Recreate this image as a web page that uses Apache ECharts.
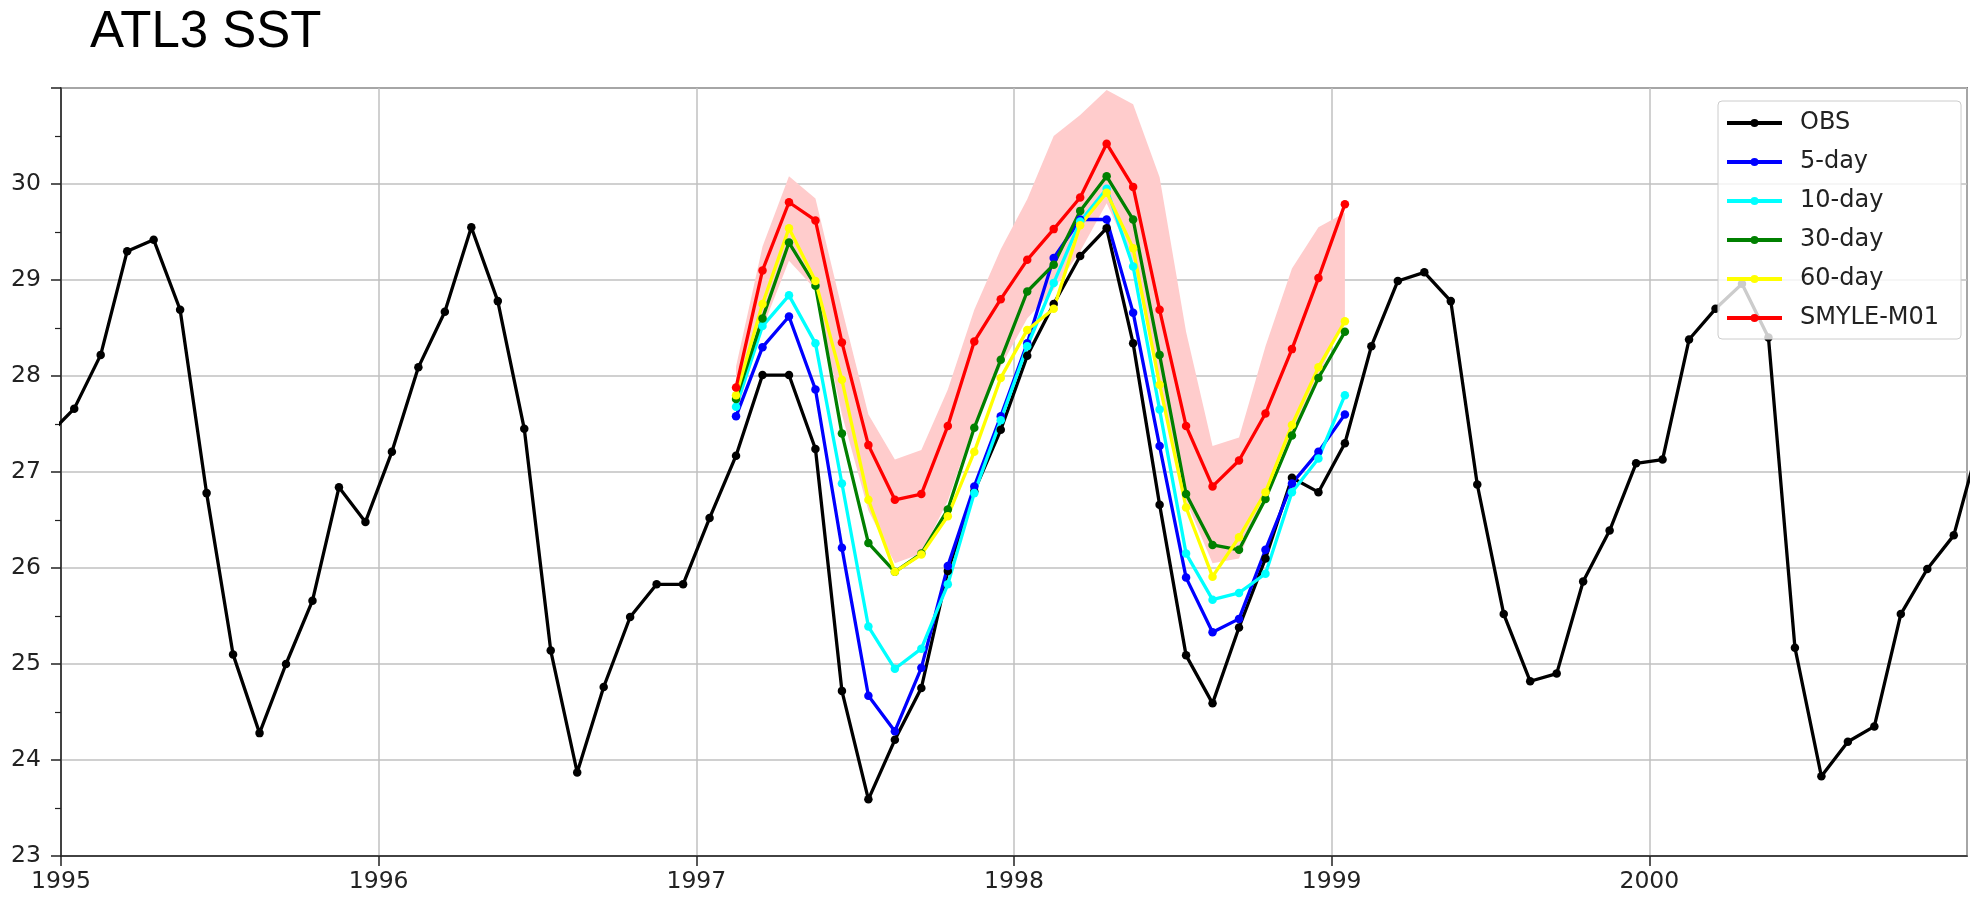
<!DOCTYPE html>
<html><head><meta charset="utf-8">
<script src="https://cdn.jsdelivr.net/npm/echarts@6/dist/echarts.min.js"></script>
<style>html,body{margin:0;padding:0;background:#fff}#c{width:1975px;height:898px}</style>
</head><body><div id="c"></div>
<script>
const chartTitle = 'ATL3 SST';
const xTicks = [1995, 1996, 1997, 1998, 1999, 2000];
const yTicks = [23, 24, 25, 26, 27, 28, 29, 30];
const seriesNames = ['OBS', '5-day', '10-day', '30-day', '60-day', 'SMYLE-M01'];

// OBS monthly values, Dec 1994 .. Jan 2001
const obsStart = '1994-12';
const obs = [27.38,
  27.66, 28.22, 29.30, 29.42, 28.69, 26.78, 25.10, 24.28, 25.00, 25.66, 26.84, 26.48,
  27.21, 28.09, 28.67, 29.55, 28.78, 27.45, 25.14, 23.87, 24.76, 25.49, 25.83, 25.83,
  26.52, 27.17, 28.01, 28.01, 27.24, 24.72, 23.59, 24.21, 24.75, 25.97, 26.80, 27.44,
  28.21, 28.75, 29.25, 29.54, 28.34, 26.66, 25.09, 24.59, 25.38, 26.10, 26.94, 26.79,
  27.30, 28.31, 28.99, 29.08, 28.78, 26.87, 25.52, 24.82, 24.90, 25.86, 26.39, 27.09,
  27.13, 28.38, 28.70, 28.96, 28.40, 25.17, 23.83, 24.19, 24.35, 25.52, 25.99, 26.34,
  27.35];

// forecasts, Feb 1997 .. Jan 1999
const fcstStart = '1997-02';
const day5 = [27.58, 28.30, 28.62, 27.86, 26.21, 24.67, 24.30, 24.96, 26.02, 26.85, 27.58,
  28.34, 29.23, 29.63, 29.63, 28.66, 27.27, 25.90, 25.33, 25.47, 26.19, 26.88, 27.21, 27.60];
const day10 = [27.68, 28.52, 28.84, 28.34, 26.88, 25.39, 24.95, 25.16, 25.83, 26.78, 27.54,
  28.31, 28.97, 29.61, 29.95, 29.14, 27.65, 26.15, 25.67, 25.74, 25.94, 26.79, 27.14, 27.80];
const day30 = [27.76, 28.60, 29.39, 28.94, 27.40, 26.26, 25.96, 26.15, 26.61, 27.46, 28.17,
  28.88, 29.16, 29.72, 30.08, 29.63, 28.22, 26.77, 26.24, 26.19, 26.72, 27.38, 27.98, 28.46];
const day60 = [27.80, 28.75, 29.54, 28.99, 27.96, 26.71, 25.96, 26.14, 26.54, 27.21, 27.98,
  28.48, 28.70, 29.57, 29.91, 29.33, 27.91, 26.63, 25.91, 26.32, 26.79, 27.49, 28.09, 28.57];
const smyle = [27.88, 29.10, 29.81, 29.62, 28.35, 27.28, 26.71, 26.77, 27.48, 28.36, 28.80,
  29.21, 29.53, 29.86, 30.42, 29.97, 28.69, 27.48, 26.85, 27.12, 27.61, 28.28, 29.02, 29.79];
const smyleLow = [27.60, 28.50, 29.20, 28.90, 27.60, 26.60, 26.05, 26.15, 26.70, 27.50, 28.10,
  28.60, 28.90, 29.30, 29.80, 29.20, 27.90, 26.70, 26.05, 26.10, 26.80, 27.40, 28.00, 28.60];
const smyleHigh = [28.10, 29.35, 30.08, 29.85, 28.70, 27.60, 27.13, 27.23, 27.86, 28.69, 29.32,
  29.84, 30.50, 30.72, 30.98, 30.83, 30.07, 28.46, 27.27, 27.36, 28.31, 29.12, 29.55, 29.70];

function monthPos(start, i) {
  const [y, m] = start.split('-').map(Number);
  const idx = (m - 1) + i;
  return y + Math.floor(idx / 12) + ((idx % 12) + 0.5) / 12;
}
function pairs(start, vals) { return vals.map((v, i) => [monthPos(start, i), v]); }

const colors = {'OBS': '#000000', '5-day': '#0000ff', '10-day': '#00ffff', '30-day': '#008000', '60-day': '#ffff00', 'SMYLE-M01': '#ff0000'};
const dataMap = {
  'OBS': pairs(obsStart, obs), '5-day': pairs(fcstStart, day5), '10-day': pairs(fcstStart, day10),
  '30-day': pairs(fcstStart, day30), '60-day': pairs(fcstStart, day60), 'SMYLE-M01': pairs(fcstStart, smyle)
};
const bandUp = pairs(fcstStart, smyleHigh);
const bandLo = pairs(fcstStart, smyleLow);

const FONT = 'DejaVu Sans';
const series = [{
  name: 'band', type: 'custom', silent: true, z: 1, data: bandUp,
  renderItem: (params, api) => {
    if (params.dataIndex !== 0) return null;
    const pts = bandUp.map(p => api.coord(p)).concat(bandLo.map(p => api.coord(p)).reverse());
    return { type: 'polygon', shape: { points: pts }, style: { fill: '#ffcccc', stroke: 'none' } };
  }
}];
seriesNames.forEach(n => {
  series.push({ name: n, type: 'line', data: dataMap[n], symbol: 'circle', symbolSize: 8.5,
    lineStyle: { color: colors[n], width: 3.3 }, itemStyle: { color: colors[n] }, z: 2 });
});

const chart = echarts.init(document.getElementById('c'));
chart.setOption({
  animation: false,
  backgroundColor: '#fff',
  title: { text: chartTitle, left: 85, top: 2,
    textStyle: { fontFamily: 'Liberation Sans', fontSize: 51, fontWeight: 'normal', color: '#000' } },
  grid: { left: 61, right: 8, top: 88, bottom: 42, show: true, borderColor: '#222', borderWidth: 1.5 },
  legend: { data: seriesNames, orient: 'vertical', left: 1718, top: 101, padding: [10, 22, 9, 7], z: 10,
    itemGap: 15, itemWidth: 55, itemHeight: 10, backgroundColor: 'rgba(255,255,255,0.8)',
    borderColor: '#cccccc', borderWidth: 1, borderRadius: 4,
    lineStyle: { width: 4 },
    textStyle: { fontFamily: FONT, fontSize: 24, color: '#222', padding: [0, 0, 0, 13] } },
  xAxis: { type: 'value', min: 1995, max: 2001, interval: 1,
    axisLine: { show: true, lineStyle: { color: '#222', width: 1.5 } },
    axisTick: { show: true, length: 10, lineStyle: { color: '#222', width: 1.5 } },
    axisLabel: { showMaxLabel: false, margin: 14, fontFamily: FONT, fontSize: 23.5, color: '#222',
      formatter: v => xTicks.includes(v) ? String(v) : '' },
    splitLine: { show: true, lineStyle: { color: '#c0c0c0', width: 1.5 } } },
  yAxis: { type: 'value', min: 23, max: 31, interval: 1,
    axisLine: { show: true, lineStyle: { color: '#222', width: 1.5 } },
    axisTick: { show: true, length: 10, lineStyle: { color: '#222', width: 1.5 } },
    minorTick: { show: true, splitNumber: 2, length: 6, lineStyle: { color: '#222', width: 1.2 } },
    axisLabel: { showMaxLabel: false, margin: 20, fontFamily: FONT, fontSize: 23.5, color: '#222',
      formatter: v => yTicks.includes(v) ? String(v) : '' },
    splitLine: { show: true, lineStyle: { color: '#c0c0c0', width: 1.5 } } },
  series: series
});
</script></body></html>
